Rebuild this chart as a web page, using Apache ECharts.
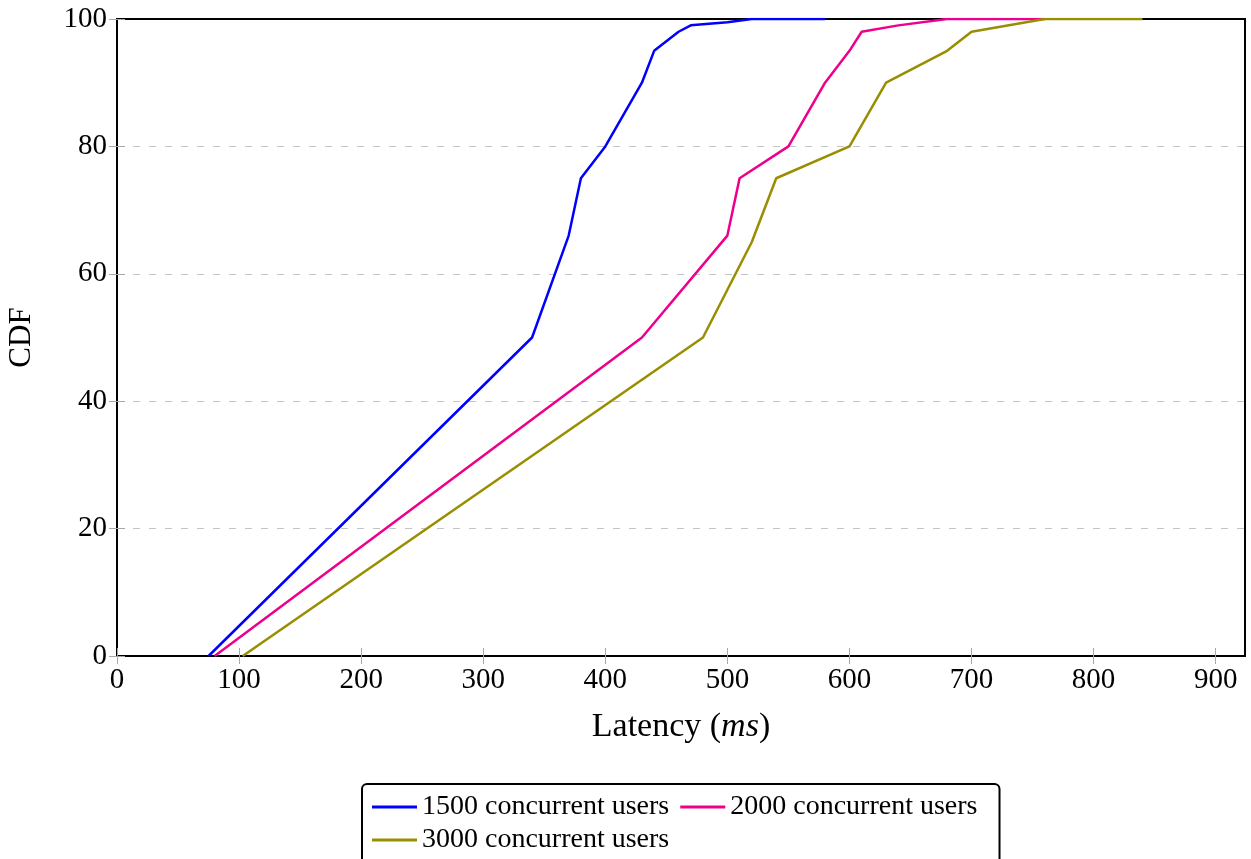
<!DOCTYPE html>
<html>
<head>
<meta charset="utf-8">
<script src="https://cdn.jsdelivr.net/npm/echarts@6/dist/echarts.min.js"></script>
<style>html,body{margin:0;padding:0;background:#fff}#c{width:1251px;height:859px}</style>
</head>
<body>
<div id="c"></div>
<script>
const seriesNames = ['1500 concurrent users', '2000 concurrent users', '3000 concurrent users'];
const users1500 = [[75,0],[340,50],[370,66],[380,75],[400,80],[430,90],[440,95],[460,98],[470,99],[500,99.5],[520,100],[580,100]];
const users2000 = [[80,0],[430,50],[500,66],[510,75],[550,80],[580,90],[600,95],[610,98],[640,99],[680,100],[760,100]];
const users3000 = [[103,0],[480,50],[520,65],[540,75],[600,80],[630,90],[680,95],[700,98],[760,100],[840,100]];
const xTicks = [0,100,200,300,400,500,600,700,800,900];
const yTicks = [0,20,40,60,80,100];
const colors = ['#0000ff', '#ec008c', '#998e00'];

const FONT = 'Liberation Serif';
const chart = echarts.init(document.getElementById('c'));
const tickStyle = { show: true, inside: true, length: 8, lineStyle: { color: '#a8a8a8', width: 1 } };
const xBase = { type: 'value', min: 0, max: 924, interval: 100 };
const yBase = { type: 'value', min: 0, max: 100, interval: 20 };
const legendBase = {
  left: 362, width: 610,
  itemGap: 11,
  icon: 'rect',
  itemWidth: 45, itemHeight: 3,
  textStyle: { fontSize: 28, fontFamily: FONT, color: '#000' }
};
chart.setOption({
  animation: false,
  textStyle: { fontFamily: FONT },
  grid: { left: 117, right: 6, top: 19, bottom: 203, containLabel: false, outerBoundsMode: 'none',
    show: true, borderColor: '#000', borderWidth: 2, backgroundColor: 'transparent' },
  xAxis: [
    Object.assign({}, xBase, {
      position: 'bottom',
      axisLine: { show: false },
      axisTick: Object.assign({ customValues: xTicks }, tickStyle),
      splitLine: { show: false },
      axisLabel: { customValues: xTicks, margin: 10, fontSize: 29, color: '#000', fontFamily: FONT },
      name: '{a|Latency (}{b|ms}{a|)}',
      nameLocation: 'middle',
      nameGap: 54,
      nameTextStyle: { rich: {
        a: { fontSize: 34, fontFamily: FONT, color: '#000' },
        b: { fontSize: 34, fontFamily: FONT, fontStyle: 'italic', color: '#000' } } }
    }),
    Object.assign({}, xBase, {
      position: 'top',
      axisLine: { show: false },
      axisTick: Object.assign({ customValues: xTicks }, tickStyle),
      splitLine: { show: false },
      axisLabel: { show: false }
    })
  ],
  yAxis: [
    Object.assign({}, yBase, {
      position: 'left',
      axisLine: { show: false },
      axisTick: tickStyle,
      splitLine: { show: true, showMinLine: false, showMaxLine: false,
        lineStyle: { color: '#c4c4c4', width: 1, type: [7, 9] } },
      axisLabel: { margin: 10, fontSize: 29, color: '#000', fontFamily: FONT,
        formatter: v => yTicks.includes(v) ? String(v) : '' },
      name: 'CDF',
      nameLocation: 'middle',
      nameGap: 80,
      nameTextStyle: { fontSize: 31, fontFamily: FONT, color: '#000' }
    }),
    Object.assign({}, yBase, {
      position: 'right',
      axisLine: { show: false },
      axisTick: tickStyle,
      splitLine: { show: false },
      axisLabel: { show: false }
    })
  ],
  legend: [
    Object.assign({}, legendBase, {
      top: 784, z: 4,
      padding: [9, 22, 50, 10],
      borderColor: '#000', borderWidth: 2, borderRadius: 5,
      backgroundColor: '#fff',
      data: seriesNames.slice(0, 2)
    }),
    Object.assign({}, legendBase, {
      top: 817, z: 5,
      padding: [9, 22, 7, 10],
      data: seriesNames.slice(2)
    })
  ],
  series: [users1500, users2000, users3000].map((d, i) => ({
    name: seriesNames[i], type: 'line', data: d,
    xAxisIndex: 0, yAxisIndex: 0,
    symbol: 'none', showSymbol: false,
    lineStyle: { color: colors[i], width: 2.5 },
    itemStyle: { color: colors[i] },
    z: 3 + i
  }))
});
</script>
</body>
</html>
